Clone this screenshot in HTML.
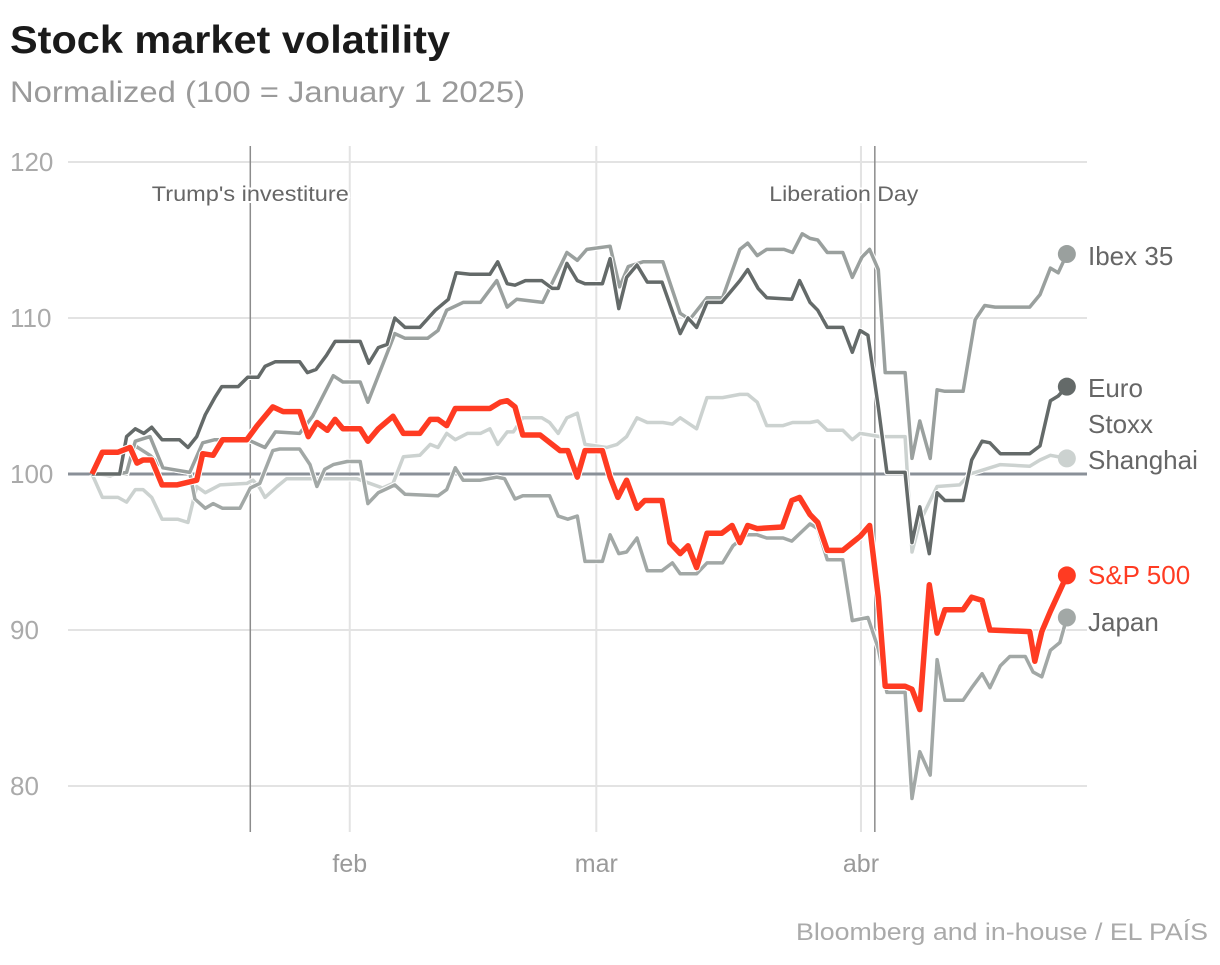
<!DOCTYPE html>
<html><head><meta charset="utf-8">
<style>
html,body{margin:0;padding:0;background:#fff;}
body{width:1220px;height:960px;overflow:hidden;font-family:"Liberation Sans",sans-serif;}
svg text{font-family:"Liberation Sans",sans-serif;}
</style></head>
<body>
<svg id="chart" width="1220" height="960" viewBox="0 0 1220 960" xmlns="http://www.w3.org/2000/svg">
<text x="10" y="53" font-size="39" font-weight="bold" fill="#1a1a1a" textLength="440" lengthAdjust="spacingAndGlyphs">Stock market volatility</text>
<text x="10" y="102" font-size="30" fill="#9a9a9a" textLength="515" lengthAdjust="spacingAndGlyphs">Normalized (100 = January 1 2025)</text>
<g id="grid"></g>
<g id="events"></g>
<g id="series"></g>
<g id="labels"></g>
<text x="796" y="940" font-size="24" fill="#aaaaaa" textLength="412" lengthAdjust="spacingAndGlyphs">Bloomberg and in-house / EL PAÍS</text>
</svg>
<script>
const yTicks = [80, 90, 100, 110, 120];
const monthTickDays = [29.8, 58.3, 88.9];
const monthTickLabels = ["feb", "mar", "abr"];
const eventDays = [18.3, 90.5];
const eventLabels = ["Trump's investiture", "Liberation Day"];
const seriesNames = ["Shanghai", "Japan", "Ibex 35", "Euro Stoxx", "S&P 500"];

const shanghaiDays = [0,1.2,3.0,4.0,5.0,5.9,6.9,8.1,9.9,11.1,12.1,13.1,14.8,17.9,18.6,19.4,20.0,21.4,22.5,30.6,33.6,34.8,36.0,37.9,39.1,40.0,41.0,42.0,43.4,44.9,46.0,46.9,48.0,48.7,49.8,52.0,52.9,53.9,54.9,56.1,57.0,59.5,60.7,61.8,63.0,64.2,66.0,67.1,68.0,69.9,71.1,72.9,74.9,75.8,76.9,78.0,79.9,81.0,83.0,83.9,85.0,86.8,87.9,88.8,91.1,94.0,94.8,95.7,96.9,97.7,100.3,101.5,103.8,105.0,108.4,109.6,110.8,112.7];
const shanghaiValues = [100,98.5,98.5,98.2,99.0,99.0,98.5,97.1,97.1,96.9,99.2,98.8,99.3,99.4,99.6,99.1,98.5,99.2,99.7,99.7,99.1,99.4,101.1,101.2,101.9,101.7,102.6,102.2,102.6,102.6,102.9,101.9,102.7,102.7,103.6,103.6,103.3,102.6,103.6,103.9,101.9,101.7,101.9,102.4,103.6,103.3,103.3,103.2,103.6,102.9,104.9,104.9,105.1,105.1,104.6,103.1,103.1,103.3,103.3,103.4,102.8,102.8,102.2,102.6,102.4,102.4,95.0,96.9,98.3,99.2,99.3,100,100.4,100.6,100.5,100.9,101.2,101.0];

const japanDays = [0,4.0,5.0,6.7,8.2,11.3,11.9,13.1,14.0,15.1,17.1,18.3,19.4,20.9,21.7,24.0,25.2,26.0,26.9,27.9,29.5,31.0,31.9,33.1,35.0,36.2,40.0,41.0,42.0,42.9,44.9,46.8,47.7,48.9,49.8,52.9,53.9,55.0,56.1,57.0,59.0,59.9,60.9,61.8,63.0,64.2,65.9,67.1,68.0,69.9,71.1,72.9,74.1,75.7,76.9,78.0,79.9,80.9,83.0,83.9,85.0,86.8,87.9,89.7,90.9,91.9,94.0,94.8,95.7,96.9,97.7,98.6,100.7,101.7,102.9,103.8,105.0,106.1,107.9,108.8,109.8,110.8,111.9,112.7];
const japanValues = [100,100.0,101.8,101.2,100.4,100.1,98.4,97.8,98.1,97.8,97.8,99.1,99.4,101.5,101.6,101.6,100.6,99.2,100.3,100.6,100.8,100.8,98.1,98.8,99.3,98.7,98.6,99.0,100.4,99.6,99.6,99.8,99.7,98.4,98.6,98.6,97.3,97.1,97.3,94.4,94.4,96.1,94.9,95.0,95.9,93.8,93.8,94.3,93.6,93.6,94.3,94.3,95.4,96.1,96.1,95.9,95.9,95.7,96.8,96.5,94.5,94.5,90.6,90.8,88.8,86.0,86.0,79.2,82.2,80.7,88.1,85.5,85.5,86.3,87.2,86.3,87.7,88.3,88.3,87.3,87.0,88.7,89.2,90.8];

const ibexDays = [0,2.1,4.0,5.0,6.7,8.2,11.3,12.8,14.2,18.0,20.0,21.2,24.0,25.5,27.9,29.0,31.0,31.9,35.0,36.2,38.8,40.0,41.0,42.9,44.9,46.8,48.0,49.1,52.1,54.9,56.1,57.2,59.9,61.0,62.0,63.7,66.0,68.0,69.1,71.1,72.9,74.9,75.8,76.9,78.0,80.0,81.0,82.1,83.0,83.9,85.0,86.8,87.9,89.0,89.9,90.9,91.7,94.0,94.8,95.7,96.9,97.7,98.6,100.7,102.1,103.2,104.4,108.4,109.6,110.8,111.7,112.7];
const ibexValues = [100,99.9,100.1,102.1,102.4,100.4,100.1,102.0,102.2,102.2,101.7,102.7,102.6,103.7,106.3,105.9,105.9,104.6,109.0,108.7,108.7,109.2,110.5,111.0,111.0,112.4,110.7,111.2,111.0,114.2,113.7,114.4,114.6,112.0,113.3,113.6,113.6,110.3,109.9,111.3,111.3,114.4,114.8,114.0,114.4,114.4,114.2,115.4,115.1,115.0,114.2,114.2,112.6,113.9,114.4,113.1,106.5,106.5,101.0,103.4,101.0,105.4,105.3,105.3,109.9,110.8,110.7,110.7,111.5,113.2,112.9,114.1];

const euroDays = [0,3.2,4.0,5.0,6.0,6.9,8.1,10.1,11.1,12.1,13.1,14.2,15.0,16.9,18.0,19.2,20.0,21.2,24.0,24.9,25.9,27.1,28.1,31.0,32.0,33.1,34.1,35.0,36.2,37.9,39.7,41.2,42.1,43.7,46.0,46.9,48.0,48.9,50.1,52.0,53.2,53.9,54.9,56.1,57.0,59.0,59.9,60.9,61.8,63.0,64.2,65.9,68.0,68.9,69.9,71.1,72.8,74.9,75.8,77.0,78.0,80.9,81.8,83.0,83.9,85.0,86.8,87.9,88.8,89.7,90.9,91.9,94.0,94.8,95.7,96.8,97.7,98.6,100.7,101.7,102.9,103.8,105.0,108.4,109.6,110.8,111.7,112.7];
const euroValues = [100,100,102.4,102.9,102.6,103.0,102.2,102.2,101.7,102.4,103.8,104.9,105.6,105.6,106.2,106.2,106.9,107.2,107.2,106.5,106.7,107.6,108.5,108.5,107.1,108.1,108.3,110.0,109.4,109.4,110.5,111.2,112.9,112.8,112.8,113.6,112.2,112.1,112.4,112.4,111.9,111.9,113.5,112.4,112.2,112.2,113.8,110.6,112.6,113.4,112.3,112.3,109.0,110.0,109.4,111.0,111.0,112.4,113.1,111.9,111.3,111.2,112.4,111.0,110.5,109.4,109.4,107.8,109.2,108.9,104.3,100.1,100.1,95.6,97.9,94.9,98.8,98.3,98.3,100.9,102.1,102.0,101.3,101.3,101.8,104.7,105.0,105.6];

const spxDays = [0,1.2,3.0,4.4,5.2,5.9,6.9,8.1,9.8,12.1,12.8,14.0,15.1,17.9,19.1,20.9,22.1,24.0,25.0,26.0,27.2,28.1,29.0,31.0,31.9,33.1,34.8,36.0,37.9,39.1,40.0,41.0,42.0,46.0,47.2,48.0,48.9,49.8,51.8,54.1,55.0,56.1,57.0,59.0,59.9,60.8,61.8,63.0,63.9,65.9,66.8,68.0,68.9,69.9,71.1,72.8,74.0,74.9,75.8,76.9,79.8,80.9,81.8,83.0,83.9,85.0,86.8,87.9,88.8,89.9,90.9,91.7,94.0,94.8,95.7,96.8,97.7,98.6,100.7,101.7,102.9,103.8,108.4,109.0,109.8,110.8,112.7];
const spxValues = [100,101.4,101.4,101.7,100.7,100.9,100.9,99.3,99.3,99.6,101.3,101.2,102.2,102.2,103.1,104.3,104.0,104.0,102.4,103.3,102.8,103.5,102.9,102.9,102.1,102.9,103.7,102.6,102.6,103.5,103.5,103.1,104.2,104.2,104.6,104.7,104.3,102.5,102.5,101.5,101.5,99.8,101.5,101.5,99.8,98.5,99.6,97.8,98.3,98.3,95.6,94.9,95.4,94.0,96.2,96.2,96.7,95.6,96.7,96.5,96.6,98.3,98.5,97.4,96.9,95.1,95.1,95.6,96.0,96.7,92.1,86.4,86.4,86.2,84.9,92.9,89.8,91.3,91.3,92.1,91.9,90.0,89.9,88.0,89.9,91.2,93.5];

const NS = "http://www.w3.org/2000/svg";
const X0 = 92, PXD = 8.65;
const xScale = d => X0 + d * PXD;
const yScale = v => 474 - (v - 100) * 15.6;
function mk(tag, attrs, parent){const e=document.createElementNS(NS,tag);for(const k in attrs)e.setAttribute(k,attrs[k]);parent.appendChild(e);return e;}

const grid = document.getElementById('grid');
yTicks.forEach(t => {
  if (t !== 100) {
    const l = mk('line',{x1:68,x2:1087,y1:yScale(t),y2:yScale(t),stroke:'#e3e3e3','stroke-width':2},grid);
    
    
  }
  const tx = mk('text',{x:10,y:yScale(t)+9,'font-size':26,fill:'#aaaaaa'},grid);
  tx.textContent = t;
  
  
});
monthTickDays.forEach((d,i) => {
  const l = mk('line',{x1:xScale(d),x2:xScale(d),y1:146,y2:832,stroke:'#e3e3e3','stroke-width':2},grid);
  
  
  const tx = mk('text',{x:xScale(d),y:872,'font-size':25,fill:'#9a9a9a','text-anchor':'middle'},grid);
  tx.textContent = monthTickLabels[i];
  
  
});
const base = mk('line',{x1:68,x2:1087,y1:yScale(100),y2:yScale(100),stroke:'#8a9098','stroke-width':3},grid);



const ev = document.getElementById('events');
const eventLabelWidths = [197, 149];
eventDays.forEach((d,i) => {
  const x = xScale(d);
  const l = mk('line',{x1:x,x2:x,y1:146,y2:832,stroke:'#8c8c8c','stroke-width':1.5},ev);
  
  
  const tx = mk('text',{x:x - (i===1?31:0),y:201,'font-size':21,fill:'#666666','text-anchor':'middle',stroke:'#fff','stroke-width':4,'paint-order':'stroke',textLength:eventLabelWidths[i],lengthAdjust:'spacingAndGlyphs'},ev);
  tx.textContent = eventLabels[i];
  
  
});

const seriesDefs = [
  [shanghaiDays, shanghaiValues, '#ccd2d0', 3.5],
  [japanDays, japanValues, '#a2a8a6', 3.5],
  [ibexDays, ibexValues, '#9aa09e', 3.5],
  [euroDays, euroValues, '#646a69', 3.5],
  [spxDays, spxValues, '#ff3b22', 5.5]
];
const sg = document.getElementById('series');
const dotsG = document.getElementById('labels');
seriesDefs.forEach((s,i) => {
  const pts = s[0].map((d,j) => xScale(d).toFixed(1)+','+yScale(s[1][j]).toFixed(1)).join(' ');
  const halo = mk('polyline',{points:pts,fill:'none',stroke:'#fff','stroke-width':s[3]+2,'stroke-linejoin':'round'},sg);
  
  
  const pl = mk('polyline',{points:pts,fill:'none',stroke:s[2],'stroke-width':s[3],'stroke-linejoin':'round'},sg);
  
  
  const n = s[0].length - 1;
  const c = mk('circle',{cx:xScale(s[0][n]),cy:yScale(s[1][n]),r:9,fill:s[2]},dotsG);
  
  
});

const labelDefs = [
  ['Ibex 35', 265, '#666666'],
  ['Euro', 397, '#666666'],
  ['Stoxx', 433, '#666666'],
  ['Shanghai', 469, '#666666'],
  ['S&P 500', 584, '#ff3b22'],
  ['Japan', 631, '#666666']
];
labelDefs.forEach(l => {
  const tx = mk('text',{x:1088,y:l[1],'font-size':26,fill:l[2]},dotsG);
  tx.textContent = l[0];
  
  
});
</script>
</body></html>
